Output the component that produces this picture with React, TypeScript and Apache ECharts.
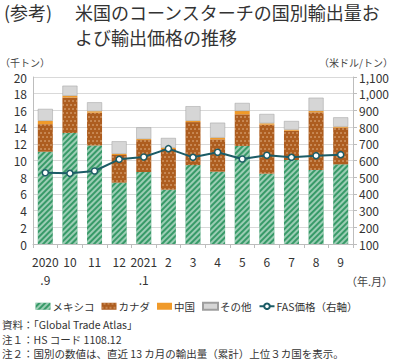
import React, { useEffect, useRef } from "react";
import * as echarts from "echarts";

const categories = ["2020\n.9", "10", "11", "12", "2021\n.1", "2", "3", "4", "5", "6", "7", "8", "9"];
const mexico = [11.05, 13.3, 11.8, 7.35, 8.62, 6.5, 9.45, 8.66, 11.74, 8.42, 10.06, 8.86, 9.54];
const canada = [3.3, 4.25, 3.93, 3.31, 3.83, 4.88, 5.15, 3.87, 3.79, 5.87, 3.51, 6.91, 4.39];
const china = [0.4, 0.2, 0.17, 0.14, 0.12, 0.15, 0.15, 0.2, 0.4, 0.16, 0.12, 0.16, 0.12];
const others = [1.43, 1.21, 1.07, 1.5, 1.4, 1.17, 1.75, 1.8, 0.96, 1.12, 1.04, 1.59, 1.12];
const fasPrice = [527, 523, 537, 607, 621, 671, 619, 649, 609, 631, 619, 629, 635];

const FONT = "'Noto Sans CJK JP', 'Noto Sans', sans-serif";

function t(text: string, x: number, y: number, fontSize: number, align: string = "left", fill: string = "#333") {
  return {
    type: "text",
    x,
    y,
    style: { text, fontSize, fontFamily: FONT, fill, textAlign: align, textVerticalAlign: "middle", lineHeight: fontSize },
  };
}

export default function App() {
  const ref = useRef<HTMLDivElement>(null);
  useEffect(() => {
    document.body.style.margin = "0";
    if (!ref.current) return;
    const chart = echarts.init(ref.current, null, { renderer: "svg" });
    const txt = "#333";
    chart.setOption({
      animation: false,
      textStyle: { fontFamily: FONT },
      grid: { left: 33, right: 40, top: 77, bottom: 115, containLabel: false },
      legend: {
        top: 301,
        left: "center",
        itemWidth: 15,
        itemHeight: 7,
        itemGap: 7,
        padding: 0,
        textStyle: { fontSize: 10.5, color: txt, fontFamily: FONT, padding: [0, 0, 0, -3] },
        data: [
          { name: "メキシコ", icon: "rect" },
          { name: "カナダ", icon: "rect" },
          { name: "中国", icon: "rect" },
          { name: "その他", icon: "rect" },
          { name: "FAS価格（右軸）" },
        ],
      },
      xAxis: {
        type: "category",
        data: categories,
        axisLine: { lineStyle: { color: "#bdbdbd" } },
        axisTick: { show: true, lineStyle: { color: "#bdbdbd" }, length: 4 },
        axisLabel: { color: txt, fontSize: 12, lineHeight: 18, margin: 8, interval: 0, fontFamily: FONT },
      },
      yAxis: [
        {
          type: "value",
          min: 0,
          max: 20,
          interval: 2,
          axisLine: { show: true, lineStyle: { color: "#bdbdbd" } },
          axisTick: { show: false },
          splitLine: { lineStyle: { color: "#d9d9d9" } },
          axisLabel: { color: txt, fontSize: 12, margin: 6, fontFamily: FONT },
        },
        {
          type: "value",
          min: 100,
          max: 1100,
          interval: 100,
          axisLine: { show: true, lineStyle: { color: "#bdbdbd" } },
          axisTick: { show: true, lineStyle: { color: "#bdbdbd" }, length: 4 },
          splitLine: { show: false },
          axisLabel: {
            color: txt,
            fontSize: 12,
            margin: 6,
            fontFamily: FONT,
            formatter: (v: number) => v.toLocaleString("en-US"),
          },
        },
      ],
      series: [
        {
          name: "メキシコ",
          type: "bar",
          stack: "vol",
          barWidth: 15,
          data: mexico,
          itemStyle: {
            color: "#379a68",
            decal: {
              symbol: "rect",
              symbolSize: 1,
              dashArrayX: [1, 0],
              dashArrayY: [1.2, 1.3],
              rotation: -Math.PI / 4,
              color: "rgba(255,255,255,0.5)",
            },
          },
        },
        {
          name: "カナダ",
          type: "bar",
          stack: "vol",
          data: canada,
          itemStyle: {
            color: "#ad5d1f",
            decal: {
              symbol: "circle",
              symbolSize: 0.7,
              dashArrayX: [[2, 2], [0, 2, 2, 0]],
              dashArrayY: [2, 2],
              rotation: 0,
              color: "rgba(255,230,200,0.75)",
            },
          },
        },
        {
          name: "中国",
          type: "bar",
          stack: "vol",
          data: china,
          itemStyle: { color: "#f09a2a" },
        },
        {
          name: "その他",
          type: "bar",
          stack: "vol",
          data: others,
          itemStyle: { color: "#d6d6d6", borderColor: "#9e9e9e", borderWidth: 0.5 },
        },
        {
          name: "FAS価格（右軸）",
          type: "line",
          yAxisIndex: 1,
          data: fasPrice,
          symbol: "circle",
          symbolSize: 6,
          showSymbol: true,
          lineStyle: { color: "#1c5c66", width: 2 },
          itemStyle: { color: "#ffffff", borderColor: "#1c5c66", borderWidth: 1.5 },
          z: 5,
        },
      ],
      graphic: [
        t("(参考)", 4, 12, 18),
        t("米国のコーンスターチの国別輸出量お", 75, 12, 18),
        t("よび輸出価格の推移", 75, 37, 18),
        t("（千トン）", 0, 62, 10, "left", "#444"),
        t("（米ドル/トン）", 393, 62, 10, "right", "#444"),
        t("（年.月）", 393, 281, 11, "right", "#444"),
        t("資料：「Global Trade Atlas」", 2, 324, 10.5),
        t("注１：HS コード 1108.12", 2, 339, 10.5),
        t("注２：国別の数値は、直近 13 カ月の輸出量（累計）上位３カ国を表示。", 2, 353, 10.5),
      ],
    });
    return () => chart.dispose();
  }, []);
  return <div ref={ref} style={{ width: 393, height: 359 }} />;
}
